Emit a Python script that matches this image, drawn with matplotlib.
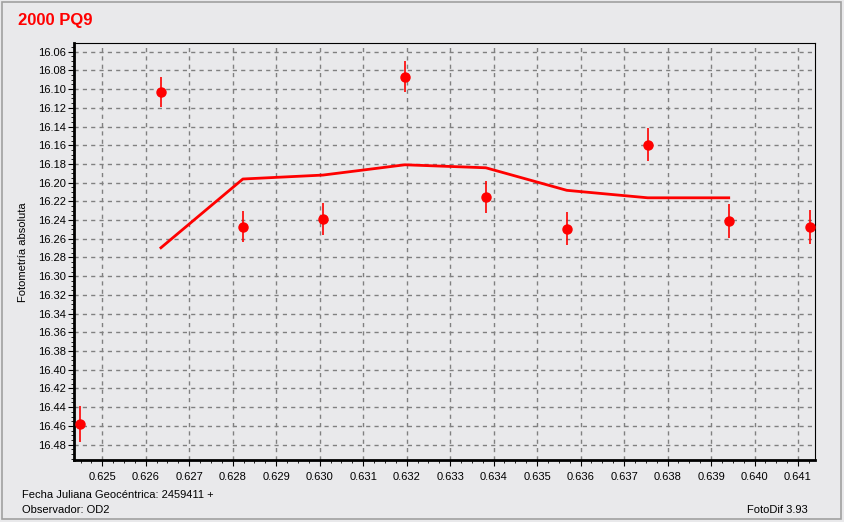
import matplotlib
matplotlib.use('Agg')
import matplotlib.pyplot as plt
from matplotlib.ticker import MultipleLocator, FormatStrFormatter
from matplotlib.patches import Rectangle

# observations (fraction of JD after 2459411)
obs_x = [0.624487, 0.626349, 0.628234, 0.630074, 0.631959,
         0.633821, 0.635683, 0.637545, 0.639407, 0.641269]
obs_mag = [16.4582, 16.1028, 16.2469, 16.2386, 16.0867,
           16.2151, 16.2493, 16.1595, 16.2407, 16.2472]
obs_err = [0.019, 0.016, 0.017, 0.017, 0.0164,
           0.017, 0.0175, 0.0175, 0.018, 0.018]

# fitted curve
fit_x = [0.626349, 0.628234, 0.630074, 0.631959, 0.633821,
         0.635683, 0.637545, 0.639407]
fit_mag = [16.2696, 16.1961, 16.1919, 16.1809, 16.1841,
           16.2082, 16.2162, 16.2162]

bg = '#e9e9eb'
W, H = 844, 522

fig = plt.figure(figsize=(W / 100, H / 100), dpi=100, facecolor=bg)
ax = fig.add_axes([74 / W, 1 - 460 / H, (815 - 74) / W, (460 - 43) / H])
ax.set_facecolor(bg)

ax.plot(fit_x, fit_mag, color='#ff0000', lw=2.0, zorder=3)
ax.errorbar(obs_x, obs_mag, yerr=obs_err, fmt='o', color='#ff0000',
            ms=6.5, elinewidth=1.2, capsize=0, zorder=4)

ax.set_xlim(0.62435, 0.641391)
ax.set_ylim(16.4965, 16.0507)

ax.xaxis.set_major_locator(MultipleLocator(0.001))
ax.xaxis.set_minor_locator(MultipleLocator(0.00025))
ax.xaxis.set_major_formatter(FormatStrFormatter('%.3f'))
ax.yaxis.set_major_locator(MultipleLocator(0.02))
ax.yaxis.set_minor_locator(MultipleLocator(0.005))
ax.yaxis.set_major_formatter(FormatStrFormatter('%.2f'))

ax.grid(True, which='major', color='#808080', ls=(0, (3, 3)), lw=1.0, zorder=1)

for s in ['left', 'bottom']:
    ax.spines[s].set_linewidth(2)
for s in ['top', 'right']:
    ax.spines[s].set_linewidth(0.8)

ax.tick_params(which='major', length=4, width=0.8, labelsize=8, pad=2,
               labelfontfamily='Liberation Sans')
ax.tick_params(which='minor', length=2, width=0.6)
ax.tick_params(axis='x', which='major', pad=5)

fig.text(18 / W, 1 - 25 / H, '2000 PQ9', color='#ff0000', fontsize=12,
         fontweight='bold', family='Liberation Sans', va='baseline')
fig.text(23 / W, 1 - 252 / H, 'Fotometría absoluta', rotation=90,
         fontsize=8, family='Liberation Sans', ha='center', va='center')
fig.text(22 / W, 1 - 498 / H, 'Fecha Juliana Geocéntrica: 2459411 +',
         fontsize=8, family='Liberation Sans', va='baseline')
fig.text(22 / W, 1 - 513 / H, 'Observador: OD2',
         fontsize=8, family='Liberation Sans', va='baseline')
fig.text(808 / W, 1 - 513 / H, 'FotoDif 3.93', ha='right',
         fontsize=8, family='Liberation Sans', va='baseline')

fig.patches.append(Rectangle((2 / W, 3 / H), 839 / W, 517 / H,
                             transform=fig.transFigure, fill=False,
                             ec='#a0a0a0', lw=1.2))

fig.savefig('out.png', dpi=100, facecolor=bg)
